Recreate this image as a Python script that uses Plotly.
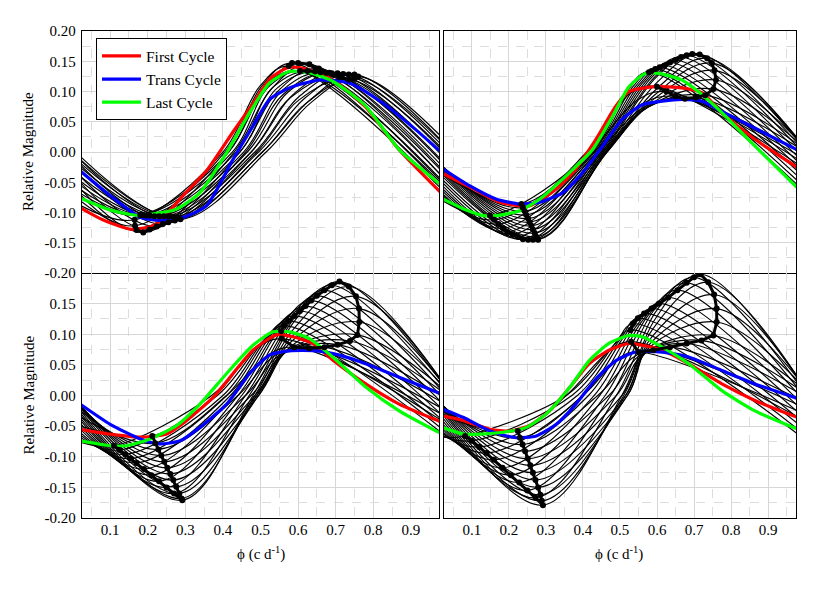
import plotly.graph_objects as go

FONT = "Liberation Serif"
PH_LEFT = 0.02
PH_RIGHT = 0.98

# ---------------- Top-left panel: black cycle family (key points) ----------------
TL_START = [-0.088, -0.080, -0.070, -0.060, -0.050, -0.040, -0.030, -0.021, -0.013, -0.007,
            -0.012, -0.018, -0.025, -0.032, -0.040, -0.048, -0.055, -0.062, -0.068, -0.074]
TL_MIN_PH = [0.165, 0.166, 0.170, 0.188, 0.205, 0.224, 0.240, 0.255, 0.272, 0.287,
             0.280, 0.268, 0.255, 0.243, 0.230, 0.218, 0.205, 0.195, 0.186, 0.180]
TL_MIN_MAG = [-0.112, -0.122, -0.129, -0.133, -0.128, -0.123, -0.119, -0.116, -0.113, -0.111,
              -0.108, -0.107, -0.106, -0.106, -0.106, -0.106, -0.105, -0.105, -0.104, -0.104]
TL_RISE_PH = [0.400, 0.405, 0.415, 0.430, 0.445, 0.460, 0.475, 0.490, 0.505, 0.515,
              0.505, 0.495, 0.485, 0.475, 0.465, 0.455, 0.445, 0.435, 0.425, 0.415]
TL_KNEE_PH = [0.500, 0.505, 0.515, 0.530, 0.545, 0.560, 0.580, 0.600, 0.620, 0.635,
              0.630, 0.620, 0.605, 0.590, 0.575, 0.560, 0.545, 0.535, 0.525, 0.515]
TL_KNEE_MAG = [0.110, 0.110, 0.108, 0.105, 0.100, 0.095, 0.090, 0.085, 0.080, 0.082,
               0.085, 0.090, 0.093, 0.097, 0.100, 0.103, 0.106, 0.108, 0.110, 0.112]
TL_MAX_PH = [0.575, 0.584, 0.600, 0.630, 0.655, 0.683, 0.710, 0.735, 0.750, 0.760,
             0.750, 0.735, 0.720, 0.705, 0.690, 0.675, 0.660, 0.645, 0.625, 0.605]
TL_MAX_MAG = [0.142, 0.147, 0.147, 0.145, 0.138, 0.131, 0.124, 0.120, 0.121, 0.125,
              0.128, 0.128, 0.129, 0.130, 0.130, 0.131, 0.132, 0.133, 0.134, 0.134]
TL_END = [-0.060, -0.055, -0.048, -0.038, -0.027, -0.015, -0.003, 0.008, 0.018, 0.026,
          0.020, 0.013, 0.005, -0.003, -0.012, -0.021, -0.030, -0.038, -0.045, -0.051]
TL_RED_PH = [0.02, 0.08, 0.157, 0.22, 0.30, 0.36, 0.43, 0.48, 0.525, 0.57, 0.60, 0.65, 0.70, 0.78, 0.87, 0.98]
TL_RED_MAG = [-0.092, -0.112, -0.128, -0.120, -0.068, -0.028, 0.036, 0.080, 0.121, 0.139, 0.140, 0.131, 0.116, 0.074, 0.003, -0.067]
TL_BLUE_PH = [0.02, 0.10, 0.18, 0.232, 0.294, 0.356, 0.427, 0.48, 0.524, 0.577, 0.657, 0.736, 0.825, 0.913, 0.98]
TL_BLUE_MAG = [-0.031, -0.072, -0.108, -0.113, -0.108, -0.089, -0.012, 0.043, 0.087, 0.106, 0.119, 0.114, 0.081, 0.037, 0.000]
TL_GREEN_PH = [0.02, 0.10, 0.18, 0.277, 0.339, 0.41, 0.471, 0.524, 0.577, 0.63, 0.692, 0.78, 0.869, 0.98]
TL_GREEN_MAG = [-0.076, -0.096, -0.105, -0.094, -0.067, -0.001, 0.065, 0.114, 0.133, 0.131, 0.117, 0.076, 0.004, -0.054]

# ---------------- Top-right panel ----------------
TR_START = [-0.037, -0.032, -0.028, -0.025, -0.023, -0.023, -0.024, -0.026, -0.029, -0.032, -0.036,
            -0.040, -0.045, -0.050, -0.055, -0.060, -0.064, -0.068, -0.071, -0.074, -0.077, -0.080]
TR_MIN_PH = [0.234, 0.238, 0.243, 0.247, 0.252, 0.256, 0.261, 0.265, 0.270, 0.274, 0.278,
             0.279, 0.265, 0.252, 0.238, 0.224, 0.210, 0.196, 0.184, 0.172, 0.160, 0.149]
TR_MIN_MAG = [-0.086, -0.092, -0.098, -0.104, -0.110, -0.116, -0.122, -0.128, -0.134, -0.140, -0.144,
              -0.145, -0.145, -0.145, -0.144, -0.140, -0.136, -0.132, -0.126, -0.119, -0.112, -0.105]
TR_RISE_PH = [0.410, 0.420, 0.430, 0.440, 0.450, 0.455, 0.460, 0.463, 0.465, 0.465, 0.462,
              0.460, 0.456, 0.452, 0.448, 0.444, 0.440, 0.436, 0.432, 0.428, 0.424, 0.420]
TR_KNEE_PH = [0.530, 0.545, 0.555, 0.565, 0.570, 0.575, 0.580, 0.585, 0.590, 0.595, 0.600,
              0.600, 0.600, 0.595, 0.585, 0.575, 0.565, 0.555, 0.545, 0.535, 0.525, 0.520]
TR_KNEE_MAG = [0.098, 0.085, 0.078, 0.074, 0.073, 0.074, 0.076, 0.080, 0.087, 0.095, 0.105,
               0.115, 0.125, 0.125, 0.123, 0.120, 0.117, 0.114, 0.111, 0.108, 0.105, 0.103]
TR_MAX_PH = [0.600, 0.625, 0.650, 0.675, 0.705, 0.730, 0.752, 0.759, 0.755, 0.748, 0.735,
             0.715, 0.695, 0.680, 0.665, 0.650, 0.635, 0.620, 0.607, 0.595, 0.585, 0.578]
TR_MAX_MAG = [0.108, 0.100, 0.092, 0.088, 0.090, 0.094, 0.104, 0.119, 0.135, 0.147, 0.155,
              0.161, 0.162, 0.160, 0.157, 0.152, 0.148, 0.143, 0.140, 0.137, 0.134, 0.132]
TR_END = [-0.020, -0.012, -0.005, 0.002, 0.008, 0.013, 0.017, 0.020, 0.022, 0.022, 0.021,
          0.019, 0.014, 0.008, 0.000, -0.008, -0.016, -0.024, -0.032, -0.040, -0.048, -0.055]
TR_RED_PH = [0.02, 0.104, 0.176, 0.256, 0.328, 0.373, 0.435, 0.489, 0.524, 0.596, 0.667, 0.721, 0.775, 0.864, 0.98]
TR_RED_MAG = [-0.035, -0.061, -0.083, -0.089, -0.061, -0.034, 0.021, 0.076, 0.100, 0.108, 0.106, 0.098, 0.065, 0.021, -0.026]
TR_BLUE_PH = [0.02, 0.095, 0.167, 0.23, 0.283, 0.346, 0.399, 0.453, 0.506, 0.56, 0.614, 0.667, 0.721, 0.775, 0.846, 0.98]
TR_BLUE_MAG = [-0.027, -0.056, -0.078, -0.086, -0.083, -0.067, -0.034, 0.010, 0.054, 0.078, 0.084, 0.087, 0.084, 0.067, 0.045, 0.003]
TR_GREEN_PH = [0.02, 0.078, 0.131, 0.167, 0.23, 0.283, 0.364, 0.426, 0.48, 0.524, 0.569, 0.605, 0.667, 0.721, 0.775, 0.846, 0.98]
TR_GREEN_MAG = [-0.077, -0.094, -0.105, -0.105, -0.097, -0.078, -0.034, 0.004, 0.059, 0.108, 0.130, 0.130, 0.119, 0.095, 0.065, 0.021, -0.060]

# ---------------- Bottom-left panel ----------------
BL_START = [-0.050, -0.035, -0.025, -0.020, -0.017, -0.016, -0.016, -0.018, -0.020, -0.024, -0.028,
            -0.032, -0.036, -0.040, -0.045, -0.050, -0.055, -0.060, -0.064, -0.068, -0.072, -0.076]
BL_MIN_PH = [0.212, 0.220, 0.228, 0.236, 0.244, 0.252, 0.260, 0.268, 0.276, 0.284, 0.290,
             0.292, 0.270, 0.250, 0.230, 0.210, 0.190, 0.170, 0.155, 0.140, 0.125, 0.110]
BL_MIN_MAG = [-0.066, -0.078, -0.088, -0.098, -0.108, -0.118, -0.128, -0.138, -0.149, -0.160, -0.168,
              -0.171, -0.160, -0.150, -0.140, -0.130, -0.120, -0.110, -0.103, -0.096, -0.089, -0.082]
BL_RISE_PH = [0.380, 0.410, 0.440, 0.460, 0.475, 0.485, 0.490, 0.495, 0.495, 0.490, 0.485,
              0.480, 0.470, 0.460, 0.450, 0.440, 0.430, 0.420, 0.410, 0.400, 0.385, 0.370]
BL_KNEE_PH = [0.480, 0.520, 0.540, 0.555, 0.565, 0.570, 0.575, 0.580, 0.580, 0.585, 0.590,
              0.595, 0.600, 0.590, 0.575, 0.560, 0.548, 0.535, 0.523, 0.512, 0.502, 0.492]
BL_KNEE_MAG = [0.072, 0.066, 0.066, 0.068, 0.070, 0.072, 0.075, 0.080, 0.087, 0.097, 0.110,
               0.125, 0.135, 0.130, 0.123, 0.117, 0.110, 0.104, 0.098, 0.092, 0.086, 0.080]
BL_MAX_PH = [0.556, 0.590, 0.630, 0.670, 0.705, 0.738, 0.758, 0.763, 0.762, 0.754, 0.735,
             0.710, 0.690, 0.670, 0.650, 0.635, 0.620, 0.605, 0.590, 0.575, 0.562, 0.555]
BL_MAX_MAG = [0.093, 0.079, 0.077, 0.079, 0.083, 0.089, 0.099, 0.120, 0.142, 0.162, 0.178,
              0.186, 0.180, 0.172, 0.163, 0.155, 0.146, 0.138, 0.130, 0.122, 0.114, 0.105]
BL_END = [-0.040, -0.030, -0.020, -0.010, 0.000, 0.008, 0.014, 0.020, 0.024, 0.026, 0.026,
          0.024, 0.018, 0.010, 0.000, -0.010, -0.020, -0.030, -0.038, -0.046, -0.053, -0.060]
BL_RED_PH = [0.02, 0.10, 0.18, 0.25, 0.303, 0.374, 0.427, 0.48, 0.542, 0.586, 0.639, 0.692, 0.78, 0.869, 0.98]
BL_RED_MAG = [-0.055, -0.063, -0.068, -0.063, -0.041, -0.003, 0.036, 0.074, 0.099, 0.096, 0.085, 0.058, 0.019, -0.014, -0.043]
BL_BLUE_PH = [0.02, 0.10, 0.18, 0.232, 0.286, 0.339, 0.41, 0.471, 0.524, 0.577, 0.648, 0.71, 0.78, 0.869, 0.98]
BL_BLUE_MAG = [-0.014, -0.047, -0.071, -0.079, -0.074, -0.052, -0.014, 0.036, 0.066, 0.073, 0.073, 0.066, 0.052, 0.030, 0.003]
BL_GREEN_PH = [0.02, 0.10, 0.144, 0.206, 0.277, 0.339, 0.41, 0.48, 0.533, 0.577, 0.63, 0.692, 0.78, 0.869, 0.98]
BL_GREEN_MAG = [-0.074, -0.082, -0.082, -0.071, -0.049, -0.014, 0.036, 0.082, 0.104, 0.104, 0.093, 0.063, 0.014, -0.025, -0.062]

# ---------------- Bottom-right panel ----------------
BR_START = [-0.033, -0.025, -0.020, -0.016, -0.015, -0.015, -0.016, -0.018, -0.020, -0.023, -0.026,
            -0.030, -0.035, -0.040, -0.045, -0.050, -0.054, -0.058, -0.061, -0.064, -0.066, -0.068]
BR_MIN_PH = [0.224, 0.230, 0.237, 0.244, 0.251, 0.258, 0.265, 0.272, 0.279, 0.285, 0.289,
             0.292, 0.272, 0.250, 0.228, 0.205, 0.183, 0.160, 0.140, 0.120, 0.100, 0.082]
BR_MIN_MAG = [-0.058, -0.069, -0.080, -0.091, -0.103, -0.114, -0.126, -0.138, -0.150, -0.162, -0.172,
              -0.179, -0.167, -0.155, -0.142, -0.130, -0.118, -0.105, -0.094, -0.084, -0.074, -0.066]
BR_RISE_PH = [0.355, 0.400, 0.440, 0.470, 0.490, 0.505, 0.515, 0.520, 0.520, 0.515, 0.510,
              0.505, 0.490, 0.475, 0.460, 0.445, 0.430, 0.415, 0.400, 0.385, 0.370, 0.355]
BR_KNEE_PH = [0.470, 0.500, 0.535, 0.550, 0.560, 0.565, 0.570, 0.575, 0.580, 0.585, 0.590,
              0.595, 0.600, 0.590, 0.575, 0.560, 0.545, 0.530, 0.515, 0.503, 0.490, 0.480]
BR_KNEE_MAG = [0.072, 0.062, 0.062, 0.064, 0.066, 0.068, 0.070, 0.076, 0.084, 0.095, 0.110,
               0.125, 0.140, 0.138, 0.130, 0.122, 0.114, 0.107, 0.100, 0.094, 0.087, 0.080]
BR_MAX_PH = [0.530, 0.550, 0.590, 0.635, 0.680, 0.720, 0.752, 0.761, 0.761, 0.754, 0.738,
             0.717, 0.700, 0.680, 0.655, 0.630, 0.605, 0.585, 0.565, 0.548, 0.535, 0.528]
BR_MAX_MAG = [0.088, 0.071, 0.074, 0.079, 0.085, 0.090, 0.098, 0.120, 0.142, 0.165, 0.185,
              0.198, 0.193, 0.184, 0.172, 0.160, 0.150, 0.142, 0.134, 0.126, 0.117, 0.107]
BR_END = [-0.035, -0.025, -0.015, -0.005, 0.005, 0.012, 0.018, 0.024, 0.028, 0.030, 0.030,
          0.028, 0.020, 0.012, 0.003, -0.007, -0.017, -0.027, -0.037, -0.046, -0.055, -0.063]
BR_RED_PH = [0.02, 0.078, 0.149, 0.203, 0.256, 0.31, 0.364, 0.417, 0.47, 0.524, 0.56, 0.614, 0.685, 0.775, 0.864, 0.98]
BR_RED_MAG = [-0.033, -0.041, -0.055, -0.058, -0.049, -0.025, 0.013, 0.052, 0.074, 0.085, 0.082, 0.074, 0.052, 0.019, -0.008, -0.036]
BR_BLUE_PH = [0.02, 0.078, 0.149, 0.22, 0.274, 0.328, 0.381, 0.435, 0.489, 0.542, 0.614, 0.685, 0.775, 0.864, 0.98]
BR_BLUE_MAG = [-0.022, -0.036, -0.058, -0.069, -0.066, -0.047, -0.014, 0.027, 0.057, 0.071, 0.071, 0.063, 0.041, 0.019, -0.005]
BR_GREEN_PH = [0.02, 0.078, 0.122, 0.185, 0.247, 0.301, 0.364, 0.417, 0.47, 0.524, 0.56, 0.614, 0.685, 0.775, 0.864, 0.98]
BR_GREEN_MAG = [-0.052, -0.063, -0.063, -0.060, -0.052, -0.030, 0.013, 0.057, 0.085, 0.098, 0.096, 0.079, 0.052, 0.008, -0.025, -0.055]

# ---------------- ticks / labels ----------------
SERIES_NAMES = ["First Cycle", "Trans Cycle", "Last Cycle"]
SERIES_COLORS = ["#ff0000", "#0000ff", "#00ff00"]
X_TICKS = [0.1, 0.2, 0.3, 0.4, 0.5, 0.6, 0.7, 0.8, 0.9]
X_TICK_TEXT = ["0.1", "0.2", "0.3", "0.4", "0.5", "0.6", "0.7", "0.8", "0.9"]
Y_TICKS_TOP = [0.20, 0.15, 0.10, 0.05, 0.00, -0.05, -0.10, -0.15, -0.20]
Y_TICK_TEXT_TOP = ["0.20", "0.15", "0.10", "0.05", "0.00", "-0.05", "-0.10", "-0.15", "-0.20"]
Y_TICKS_BOTTOM = [0.15, 0.10, 0.05, 0.00, -0.05, -0.10, -0.15, -0.20]
Y_TICK_TEXT_BOTTOM = ["0.15", "0.10", "0.05", "0.00", "-0.05", "-0.10", "-0.15", "-0.20"]
Y_TITLE = "Relative Magnitude"
X_TITLE = "\u03d5 (c d<sup>-1</sup>)"

panels = [
    dict(ax="x", ay="y", start=TL_START, minph=TL_MIN_PH, minmag=TL_MIN_MAG, rise=TL_RISE_PH,
         kneeph=TL_KNEE_PH, kneemag=TL_KNEE_MAG, maxph=TL_MAX_PH, maxmag=TL_MAX_MAG, end=TL_END,
         colored=[(TL_RED_PH, TL_RED_MAG), (TL_BLUE_PH, TL_BLUE_MAG), (TL_GREEN_PH, TL_GREEN_MAG)], legend=True),
    dict(ax="x2", ay="y2", start=TR_START, minph=TR_MIN_PH, minmag=TR_MIN_MAG, rise=TR_RISE_PH,
         kneeph=TR_KNEE_PH, kneemag=TR_KNEE_MAG, maxph=TR_MAX_PH, maxmag=TR_MAX_MAG, end=TR_END,
         colored=[(TR_RED_PH, TR_RED_MAG), (TR_BLUE_PH, TR_BLUE_MAG), (TR_GREEN_PH, TR_GREEN_MAG)], legend=False),
    dict(ax="x3", ay="y3", start=BL_START, minph=BL_MIN_PH, minmag=BL_MIN_MAG, rise=BL_RISE_PH,
         kneeph=BL_KNEE_PH, kneemag=BL_KNEE_MAG, maxph=BL_MAX_PH, maxmag=BL_MAX_MAG, end=BL_END,
         colored=[(BL_RED_PH, BL_RED_MAG), (BL_BLUE_PH, BL_BLUE_MAG), (BL_GREEN_PH, BL_GREEN_MAG)], legend=False),
    dict(ax="x4", ay="y4", start=BR_START, minph=BR_MIN_PH, minmag=BR_MIN_MAG, rise=BR_RISE_PH,
         kneeph=BR_KNEE_PH, kneemag=BR_KNEE_MAG, maxph=BR_MAX_PH, maxmag=BR_MAX_MAG, end=BR_END,
         colored=[(BR_RED_PH, BR_RED_MAG), (BR_BLUE_PH, BR_BLUE_MAG), (BR_GREEN_PH, BR_GREEN_MAG)], legend=False),
]

fig = go.Figure()
for p in panels:
    n = len(p["start"])
    for k in range(n):
        xs = [PH_LEFT, p["minph"][k], p["rise"][k], p["kneeph"][k], p["maxph"][k], PH_RIGHT]
        ys = [p["start"][k], p["minmag"][k], 0.0, p["kneemag"][k], p["maxmag"][k], p["end"][k]]
        fig.add_trace(go.Scatter(x=xs, y=ys, mode="lines", xaxis=p["ax"], yaxis=p["ay"],
                                 line=dict(color="black", width=1.15, shape="spline", smoothing=1.0),
                                 showlegend=False, hoverinfo="skip"))
    for (cx, cy), name, col in zip(p["colored"], SERIES_NAMES, SERIES_COLORS):
        fig.add_trace(go.Scatter(x=cx, y=cy, mode="lines", xaxis=p["ax"], yaxis=p["ay"], name=name,
                                 line=dict(color=col, width=3.2, shape="spline", smoothing=0.6),
                                 showlegend=p["legend"]))
    for tx, ty in [(p["minph"], p["minmag"]), (p["maxph"], p["maxmag"])]:
        fig.add_trace(go.Scatter(x=tx, y=ty, mode="lines+markers", xaxis=p["ax"], yaxis=p["ay"],
                                 line=dict(color="black", width=3), marker=dict(color="black", size=6),
                                 showlegend=False, hoverinfo="skip"))

base = dict(showgrid=True, gridcolor="#d6d6d6", gridwidth=1.2, zeroline=False,
            showline=True, linecolor="black", linewidth=1.3, ticks="",
            tickfont=dict(family=FONT, size=15, color="black"))
xminor = dict(dtick=0.05, tick0=0.0, showgrid=True, gridcolor="#dddddd", griddash="dash", gridwidth=1)
yminor = dict(dtick=0.025, tick0=0.0, showgrid=True, gridcolor="#dddddd", griddash="dash", gridwidth=1)

XL = [0.0, 0.5]
XR = [0.507, 1.0]
YT = [0.503, 1.0]
YB = [0.0, 0.503]
X_RANGE = [0.025, 0.975]
Y_RANGE = [-0.2, 0.2]

layout = dict(
    width=815, height=576, plot_bgcolor="white", paper_bgcolor="white",
    margin=dict(l=74, r=27, t=23, b=66),
    font=dict(family=FONT, size=15, color="black"),
    showlegend=True,
    legend=dict(x=0.0196, y=0.985, xanchor="left", yanchor="top", bgcolor="white",
                bordercolor="black", borderwidth=1, font=dict(family=FONT, size=15.5),
                itemwidth=39, tracegroupgap=0),
    xaxis=dict(domain=XL, anchor="y", range=X_RANGE, tickvals=X_TICKS, showticklabels=False,
               mirror=True, minor=xminor, **base),
    yaxis=dict(domain=YT, anchor="x", range=Y_RANGE, tickvals=Y_TICKS_TOP, ticktext=Y_TICK_TEXT_TOP,
               mirror=True, ticklabelstandoff=2, minor=yminor, **base),
    xaxis2=dict(domain=XR, anchor="y2", range=X_RANGE, tickvals=X_TICKS, showticklabels=False,
                mirror=True, minor=xminor, **base),
    yaxis2=dict(domain=YT, anchor="x2", range=Y_RANGE, tickvals=Y_TICKS_TOP, showticklabels=False,
                mirror=True, minor=yminor, **base),
    xaxis3=dict(domain=XL, anchor="y3", range=X_RANGE, tickvals=X_TICKS, ticktext=X_TICK_TEXT,
                mirror=False, ticklabelstandoff=-2, minor=xminor, **base),
    yaxis3=dict(domain=YB, anchor="x3", range=Y_RANGE, tickvals=Y_TICKS_BOTTOM, ticktext=Y_TICK_TEXT_BOTTOM,
                mirror=True, ticklabelstandoff=2, minor=yminor, **base),
    xaxis4=dict(domain=XR, anchor="y4", range=X_RANGE, tickvals=X_TICKS, ticktext=X_TICK_TEXT,
                mirror=False, ticklabelstandoff=-2, minor=xminor, **base),
    yaxis4=dict(domain=YB, anchor="x4", range=Y_RANGE, tickvals=Y_TICKS_BOTTOM, showticklabels=False,
                mirror=True, minor=yminor, **base),
    annotations=[
        dict(text=Y_TITLE, xref="paper", yref="paper", x=-0.0756, y=0.7515, xanchor="center", yanchor="middle",
             textangle=-90, showarrow=False, font=dict(family=FONT, size=15)),
        dict(text=Y_TITLE, xref="paper", yref="paper", x=-0.0756, y=0.2515, xanchor="center", yanchor="middle",
             textangle=-90, showarrow=False, font=dict(family=FONT, size=15)),
        dict(text=X_TITLE, xref="paper", yref="paper", x=0.2507, y=-0.0719, xanchor="center", yanchor="middle",
             showarrow=False, font=dict(family=FONT, size=15)),
        dict(text=X_TITLE, xref="paper", yref="paper", x=0.7528, y=-0.0719, xanchor="center", yanchor="middle",
             showarrow=False, font=dict(family=FONT, size=15)),
    ],
)
fig.update_layout(**layout)
fig.write_html("out.html")
